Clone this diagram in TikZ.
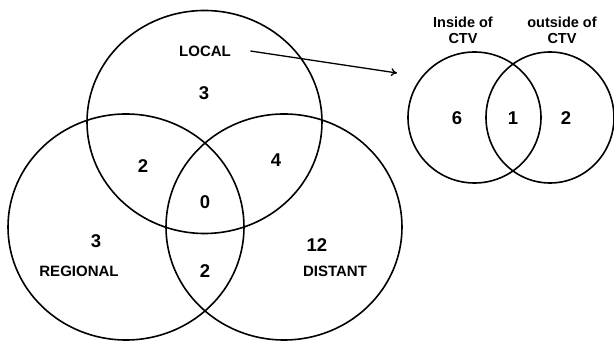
\documentclass[tikz,border=0pt]{standalone}
\usepackage{fontspec}
\setmainfont{Liberation Sans}
\usetikzlibrary{shapes.geometric,arrows.meta}
\begin{document}
\begin{tikzpicture}[x=1pt,y=-1pt,
  ring/.style={draw,ellipse,line width=1.6pt,inner sep=0pt},
  num/.style={font=\fontsize{18.5}{18.5}\selectfont\bfseries},
  lbl/.style={font=\fontsize{15}{15}\selectfont\bfseries},
  hd/.style={font=\fontsize{14.5}{16}\selectfont\bfseries,align=center}]
\useasboundingbox (0,0) rectangle (614,344);
% main Venn
\node[ring,minimum width=235pt,minimum height=223pt] (clocal) at (204.5,122) {};
\node[ring,minimum width=236pt,minimum height=226pt] (cregional) at (126,227) {};
\node[ring,minimum width=236pt,minimum height=226pt] (cdistant) at (284,227) {};
\node[lbl] (local) at (205,51) {LOCAL};
\node[lbl] (regional) at (79,271) {REGIONAL};
\node[lbl] (distant) at (335,271) {DISTANT};
\node[num] (nl) at (204,93) {3};
\node[num] (nlr) at (143,166) {2};
\node[num] (nld) at (276,160) {4};
\node[num] (nall) at (205,202) {0};
\node[num] (nr) at (96,241) {3};
\node[num] (nrd) at (205,271) {2};
\node[num] (nd) at (317,245) {12};
% small Venn
\node[ring,minimum width=133pt,minimum height=131pt] (cin) at (474.5,117.5) {};
\node[ring,minimum width=128pt,minimum height=131pt] (cout) at (550,117.5) {};
\node[hd] (hin) at (463,30) {Inside of\\CTV};
\node[hd] (hout) at (562,30) {outside of\\CTV};
\node[num] (n6) at (457,118) {6};
\node[num] (n1) at (513,118) {1};
\node[num] (n2) at (566,118) {2};
% arrow
\coordinate (tip) at (397,73);
\draw[line width=1.3pt,-{To[length=6pt,width=8pt]}] ([xshift=16pt]local.east) -- (tip);
\end{tikzpicture}
\end{document}
